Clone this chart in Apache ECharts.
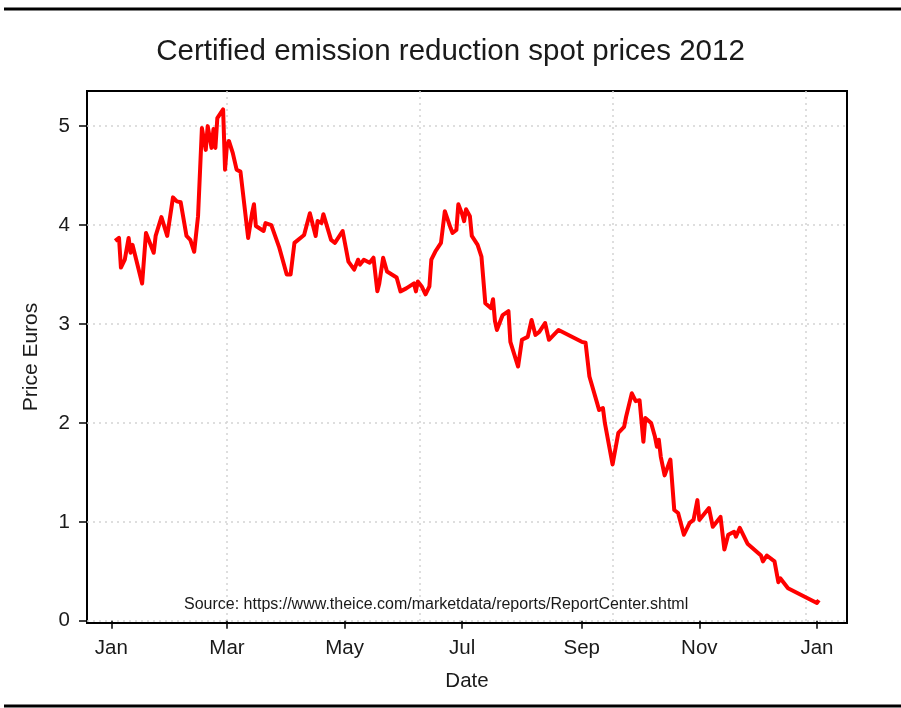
<!DOCTYPE html>
<html>
<head>
<meta charset="utf-8">
<script src="https://cdn.jsdelivr.net/npm/echarts@6/dist/echarts.min.js"></script>
<style>
  html, body { margin: 0; padding: 0; background: #fff; }
  #chart { width: 901px; height: 708px; }
</style>
</head>
<body>
<div id="chart"></div>
<script>
// trading days (approximate)
var dates = [
  '2012-01-03', '2012-01-05', '2012-01-06', '2012-01-08', '2012-01-10', '2012-01-11', '2012-01-12',
  '2012-01-17', '2012-01-19', '2012-01-23', '2012-01-24', '2012-01-27', '2012-01-30',
  '2012-02-02', '2012-02-04', '2012-02-06', '2012-02-09', '2012-02-11', '2012-02-13', '2012-02-15',
  '2012-02-17', '2012-02-18', '2012-02-19', '2012-02-20', '2012-02-22', '2012-02-23', '2012-02-24',
  '2012-02-25', '2012-02-28', '2012-02-29',
  '2012-03-01', '2012-03-02', '2012-03-04', '2012-03-06', '2012-03-08', '2012-03-12', '2012-03-14',
  '2012-03-15', '2012-03-16', '2012-03-20', '2012-03-21', '2012-03-24', '2012-03-28',
  '2012-04-01', '2012-04-03', '2012-04-05', '2012-04-10', '2012-04-13', '2012-04-16', '2012-04-17',
  '2012-04-19', '2012-04-20', '2012-04-24', '2012-04-26', '2012-04-27', '2012-04-30',
  '2012-05-03', '2012-05-06', '2012-05-07', '2012-05-08', '2012-05-09', '2012-05-11', '2012-05-14',
  '2012-05-16', '2012-05-18', '2012-05-19', '2012-05-21', '2012-05-23', '2012-05-28', '2012-05-30',
  '2012-06-02', '2012-06-06', '2012-06-07', '2012-06-08', '2012-06-10', '2012-06-12', '2012-06-14',
  '2012-06-15', '2012-06-17', '2012-06-20', '2012-06-21', '2012-06-22', '2012-06-25', '2012-06-26',
  '2012-06-28', '2012-06-29',
  '2012-07-01', '2012-07-02', '2012-07-03', '2012-07-05', '2012-07-06', '2012-07-09', '2012-07-11',
  '2012-07-13', '2012-07-16', '2012-07-17', '2012-07-18', '2012-07-19', '2012-07-22', '2012-07-25',
  '2012-07-26', '2012-07-30',
  '2012-08-01', '2012-08-04', '2012-08-06', '2012-08-08', '2012-08-10', '2012-08-13', '2012-08-15',
  '2012-08-20',
  '2012-09-01', '2012-09-03', '2012-09-05', '2012-09-09', '2012-09-10', '2012-09-12', '2012-09-13',
  '2012-09-17', '2012-09-18', '2012-09-20', '2012-09-23', '2012-09-24', '2012-09-27', '2012-09-29',
  '2012-10-01', '2012-10-03', '2012-10-04', '2012-10-07', '2012-10-09', '2012-10-10', '2012-10-11',
  '2012-10-12', '2012-10-14', '2012-10-17', '2012-10-19', '2012-10-21', '2012-10-24', '2012-10-27',
  '2012-10-29', '2012-10-31',
  '2012-11-01', '2012-11-06', '2012-11-08', '2012-11-09', '2012-11-12', '2012-11-14', '2012-11-16',
  '2012-11-19', '2012-11-20', '2012-11-22', '2012-11-26',
  '2012-12-03', '2012-12-04', '2012-12-06', '2012-12-10', '2012-12-12', '2012-12-13', '2012-12-17',
  '2013-01-01', '2013-01-02'
]

var prices = [
  3.84, 3.87, 3.57, 3.65, 3.87, 3.72, 3.80,
  3.41, 3.92, 3.72, 3.89, 4.08, 3.89,
  4.28, 4.24, 4.23, 3.89, 3.85, 3.73, 4.09,
  4.98, 4.87, 4.76, 5.00, 4.78, 4.97, 4.78,
  5.08, 5.17, 4.56,
  4.81, 4.85, 4.73, 4.56, 4.54, 3.87, 4.12,
  4.21, 3.99, 3.94, 4.02, 4.00, 3.78,
  3.50, 3.50, 3.82, 3.90, 4.12, 3.89, 4.04,
  4.02, 4.11, 3.85, 3.82, 3.80, 3.94,
  3.63, 3.55, 3.53, 3.65, 3.60, 3.65, 3.62,
  3.67, 3.33, 3.41, 3.67, 3.53, 3.47, 3.33,
  3.36, 3.41, 3.33, 3.43, 3.38, 3.30, 3.38,
  3.65, 3.73, 3.82, 3.84, 4.14, 3.97, 3.92,
  3.95, 4.21,
  4.11, 4.04, 4.16, 4.09, 3.89, 3.80, 3.68,
  3.21, 3.16, 3.25, 3.03, 2.94, 3.09, 3.13,
  2.82, 2.57,
  2.84, 2.87, 3.04, 2.89, 2.92, 3.01, 2.84,
  2.94,
  2.82, 2.81, 2.47, 2.20, 2.13, 2.15, 2.00,
  1.58, 1.59, 1.90, 1.96, 2.06, 2.30, 2.22,
  2.23, 1.81, 2.05, 2.00, 1.86, 1.76, 1.83,
  1.66, 1.47, 1.63, 1.12, 1.09, 0.87, 0.99,
  1.02, 1.22,
  1.02, 1.14, 0.95, 0.94, 1.05, 0.72, 0.87,
  0.90, 0.85, 0.94, 0.78,
  0.66, 0.60, 0.66, 0.60, 0.39, 0.43, 0.33,
  0.18, 0.21
]

var xTickDates = ['2012-01-01', '2012-03-01', '2012-05-01', '2012-07-01', '2012-09-01', '2012-11-01', '2013-01-01']
var xTickLabels = ['Jan', 'Mar', 'May', 'Jul', 'Sep', 'Nov', 'Jan']
// vertical dotted grid (every 100 days)
var xGridDates = ['2012-03-01', '2012-06-09', '2012-09-17', '2012-12-26']
var yTicks = [0, 1, 2, 3, 4, 5]

var DAY = 86400000
var FONT = 'Liberation Sans, Arial, sans-serif'
var TXT = '#1a1a1a'

function ts(s) {
  var p = s.split('-')
  return new Date(+p[0], +p[1] - 1, +p[2]).getTime()
}

var xMin = ts('2012-01-01') - 12.6 * DAY
var xMax = ts('2013-01-01') + 15.6 * DAY
var tickTs = xTickDates.map(ts)
var gridTs = xGridDates.map(ts)
var seriesData = dates.map(function (d, i) { return [ts(d), prices[i]] })

var chart = echarts.init(document.getElementById('chart'))

var gridLine = { show: true, lineStyle: { color: '#d4d4d4', type: [2, 4], width: 1.5 } }

var option = {
  backgroundColor: '#fff',
  animation: false,
  textStyle: { fontFamily: FONT },
  title: {
    text: 'Certified emission reduction spot prices 2012',
    left: 'center',
    top: 32,
    textStyle: { fontSize: 29.5, fontWeight: 'normal', color: TXT, fontFamily: FONT }
  },
  grid: {
    left: 87,
    right: 54,
    top: 91,
    bottom: 85,
    show: true,
    borderColor: '#000',
    borderWidth: 2,
    backgroundColor: 'transparent'
  },
  xAxis: [{
    type: 'value',
    min: xMin,
    max: xMax,
    name: 'Date',
    nameLocation: 'middle',
    nameGap: 48,
    nameTextStyle: { fontSize: 20.5, color: TXT, fontFamily: FONT },
    axisLine: { show: false },
    axisTick: {
      show: true,
      length: 8,
      customValues: tickTs,
      lineStyle: { color: '#000', width: 1.5 }
    },
    axisLabel: {
      customValues: tickTs,
      fontSize: 20.5,
      color: TXT,
      margin: 15,
      fontFamily: FONT,
      formatter: function (val) {
        var i = tickTs.indexOf(val)
        return i >= 0 ? xTickLabels[i] : ''
      }
    },
    splitLine: { show: false }
  }, {
    // hidden axis only used for the vertical grid lines
    type: 'value',
    min: xMin,
    max: xMax,
    position: 'bottom',
    axisLine: { show: false },
    axisTick: { show: false, customValues: gridTs },
    axisLabel: { show: false, customValues: gridTs },
    splitLine: gridLine
  }],
  yAxis: {
    type: 'value',
    min: -0.022,
    max: 5.355,
    name: 'Price Euros',
    nameLocation: 'middle',
    nameRotate: 90,
    nameGap: 45,
    nameTextStyle: { fontSize: 21, color: TXT, fontFamily: FONT },
    axisLine: { show: false },
    axisTick: {
      show: true,
      length: 8,
      customValues: yTicks,
      lineStyle: { color: '#000', width: 1.5 }
    },
    axisLabel: {
      customValues: yTicks,
      fontSize: 20.5,
      color: TXT,
      margin: 17,
      fontFamily: FONT
    },
    splitLine: gridLine
  },
  graphic: [
    {
      type: 'text',
      left: 184,
      top: 597,
      z: 10,
      style: {
        text: 'Source: https://www.theice.com/marketdata/reports/ReportCenter.shtml',
        fontSize: 16,
        fontFamily: FONT,
        fill: TXT
      }
    },
    {
      type: 'line',
      shape: { x1: 4, y1: 9, x2: 901, y2: 9 },
      style: { stroke: '#000', lineWidth: 3 }
    },
    {
      type: 'line',
      shape: { x1: 4, y1: 706, x2: 901, y2: 706 },
      style: { stroke: '#000', lineWidth: 3 }
    }
  ],
  series: [{
    type: 'line',
    xAxisIndex: 0,
    data: seriesData,
    showSymbol: false,
    symbol: 'none',
    lineStyle: { color: '#ff0000', width: 4, join: 'round' },
    itemStyle: { color: '#ff0000' }
  }]
}

chart.setOption(option)
</script>
</body>
</html>
